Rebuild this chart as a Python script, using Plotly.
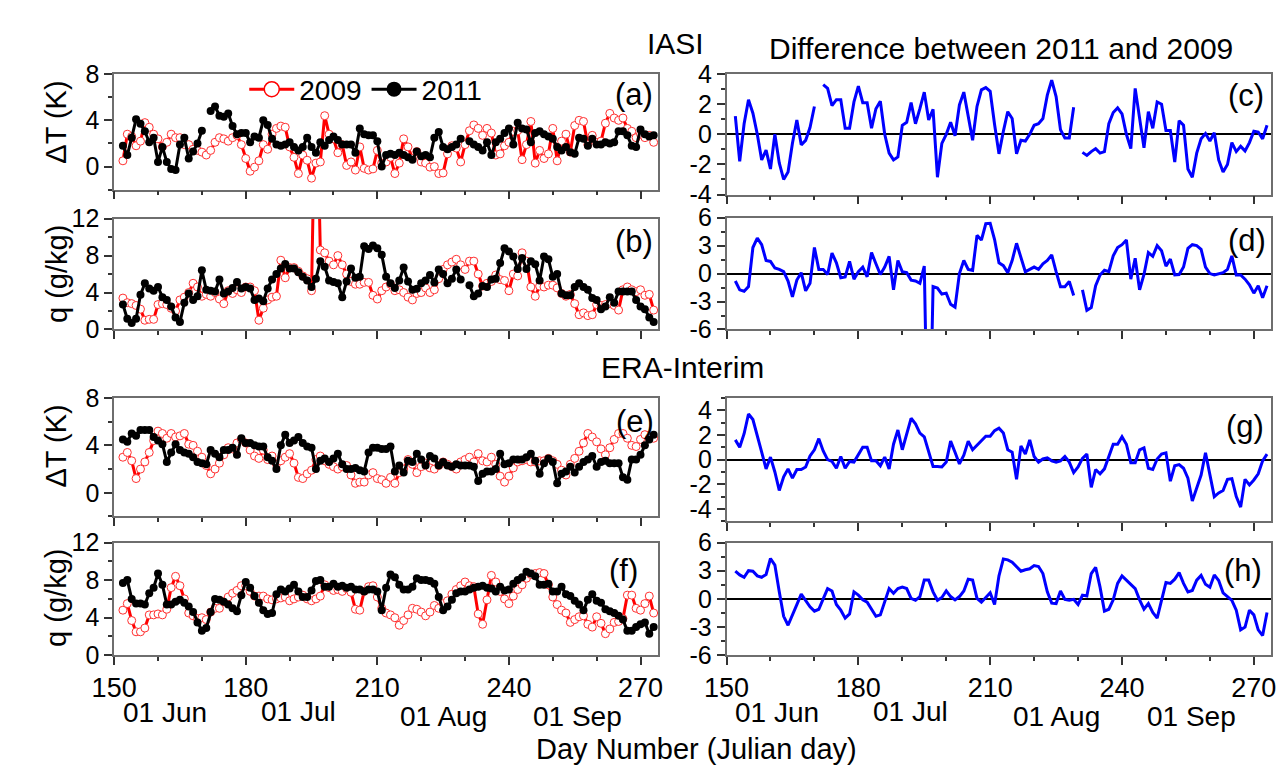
import plotly.graph_objects as go

# ---------------- data ----------------
days = list(range(152, 274))

# IASI dT (K)
a_2009 = [0.5, 2.8, 2.6, 1.8, 2.2, 3.8, 3.4, 2.8, 2.4, 1.7,
          2.1, 2.8, 2.5, 2.5, 1.9, 1.9, 1.5, 1.4, 1.25, 1.0,
          1.4, 2.1, 2.5, 2.4, 2.2, 2.5, 2.7, 1.9, 0.7, -0.4,
          -0.05, 0.5, 1.9, 1.5, 2.8, 3.3, 3.5, 3.4, 1.7, 0.8,
          -0.6, 1.0, 0.55, -1.0, 0.3, 0.4, 4.4, 2.8, 2.4, 1.2,
          1.9, 0.1, 0.4, -0.3, 1.7, -0.15, -0.3, -0.2, 1.4, 0.3,
          0.4, 0.8, -0.6, 0.3, 2.4, 1.7, 0.7, 1.3, 0.4, 0.3,
          -0.05, 0.0, -0.6, -0.55, 1.1, 1.8, 1.6, 0.4, 1.9, 3.1,
          3.6, 3.3, 2.7, 3.3, 2.9, 1.0, 1.1, 1.8, 2.1, 3.05,
          3.1, 0.6, 1.9, 3.9, 0.3, 1.4, 0.7, 1.1, 3.3, 0.5,
          2.2, 2.8, 1.25, 3.55, 4.0, 3.9, 1.9, 2.7, 2.1, 2.2,
          3.75, 4.6, 4.2, 4.0, 4.2, 3.3, 3.05, 2.5, 2.8, 2.5,
          2.7, 2.1]
a_2011 = [1.8, 1.0, 2.5, 4.1, 3.7, 3.05, 2.1, 2.5, 0.4, 1.7,
          0.4, -0.2, -0.3, 1.9, 2.5, 0.7, 1.3, 2.0, 3.1, None,
          4.8, 5.2, 4.4, 4.3, 4.6, 3.5, 2.8, 2.9, 2.9, 2.1,
          2.6, 2.5, 4.0, 3.6, 2.4, 1.9, 1.8, 1.9, 2.1, 1.7,
          1.4, 1.7, 2.5, 1.7, 1.2, 2.1, 1.8, 2.3, 2.6, 2.3,
          1.9, 1.9, 1.9, 1.2, 3.3, 2.8, 2.7, 2.7, 2.2, 0.0,
          1.0, 1.1, 1.0, 1.2, 1.0, 0.8, 0.6, 1.3, 0.9, 1.0,
          0.8, 2.5, 3.0, 1.7, 1.5, 1.7, 1.9, 2.4, None, 2.2,
          1.9, 1.7, 1.4, 2.1, 1.0, 2.1, 2.4, 2.9, 3.3, 1.9,
          3.8, 3.3, 3.2, 2.1, 2.9, 3.05, 2.8, 2.6, 2.4, 1.7,
          1.4, 1.7, 1.25, 1.1, 2.5, 2.4, 1.8, 2.4, 1.9, 1.9,
          2.1, 2.0, 2.1, 3.05, 3.05, 2.7, 1.8, 1.7, 3.2, 2.8,
          2.6, 2.7]

# IASI q (g/kg)
b_2009 = [3.4, 2.9, 2.8, 2.6, 2.2, 1.0, 1.1, 1.1, 2.7, 2.8,
          2.7, 2.3, 2.0, 3.2, 3.5, 4.0, 5.0, 4.6, 3.6, 3.8,
          3.6, 4.0, 3.3, 2.8, 4.2, 3.9, 4.3, 4.0, 4.6, 4.6,
          4.2, 1.0, 2.3, 3.2, 3.5, 3.6, 7.5, 5.6, 6.7, 6.7,
          6.3, 5.8, 5.5, 4.2, 30.0, 8.6, 8.3, 7.4, 7.0, 8.0,
          7.0, 6.0, 5.2, 4.9, 4.9, 5.1, 5.1, 3.7, 3.3, 4.2,
          4.6, 4.9, 4.2, 4.3, 4.0, 3.5, 3.2, 3.9, 4.0, 4.5,
          4.0, 4.3, 5.5, 6.5, 7.0, 7.3, 7.6, 7.0, 6.5, 7.4,
          7.4, 6.0, 4.7, 5.0, 5.2, 5.9, 5.4, 5.3, 4.2, 6.0,
          5.8, 8.3, 7.4, 4.6, 3.6, 4.7, 4.6, 4.8, 4.8, 4.5,
          3.9, 3.6, 3.8, 2.8, 1.6, 1.8, 1.5, 1.6, 2.7, 2.6,
          2.7, 2.8, 2.6, 2.1, 4.3, 4.6, 4.3, 4.1, 4.3, 3.7,
          3.8, 2.1]
b_2011 = [2.7, 1.15, 0.7, 1.15, 3.75, 5.0, 4.45, 4.2, 4.6, 3.5,
          3.2, 2.5, 1.3, 0.8, 2.9, 3.9, 3.2, 3.6, 6.4, 4.3,
          4.2, 4.1, 5.4, 3.9, 4.1, 4.5, 5.15, 4.45, 4.6, 4.45,
          3.2, 3.35, 3.05, 4.45, 5.4, 6.0, 6.6, 7.1, 6.6, 6.6,
          6.2, 5.7, 5.3, 4.6, 5.5, 7.4, 6.8, 5.3, 5.15, 5.0,
          3.5, 5.2, 6.6, 5.6, 5.7, 9.0, 8.7, 9.1, 8.8, 8.1,
          5.7, 5.0, 4.5, 5.3, 6.7, 5.2, 4.3, 4.4, 5.0, 5.3,
          5.9, 5.1, 6.5, 6.0, 5.0, 5.5, 6.5, 5.4, None, 4.8,
          3.6, 3.9, 4.7, 4.6, 5.4, 5.5, 7.2, 8.8, 8.45, 7.9,
          6.55, 7.75, 6.55, 7.4, 7.05, 5.3, 7.9, 7.6, 5.7, 6.0,
          3.9, 3.7, 3.7, 4.6, 5.0, 4.6, 4.3, 3.4, 3.2, 2.2,
          2.5, 3.5, 2.9, 4.1, 4.1, 4.1, 4.1, 3.2, 2.5, 2.2,
          1.3, 0.8]

# ERA-Interim dT (K)
e_2009 = [3.0, 3.4, 2.7, 1.2, 2.0, 2.6, 3.4, 4.4, 5.2, 5.0,
          4.6, 5.0, 4.7, 4.8, 5.0, 4.1, 4.0, 3.5, 3.0, 2.3,
          1.6, 2.0, 2.5, 3.2, 3.8, 3.7, 4.2, 4.5, 4.2, 3.6,
          3.1, 2.9, 3.6, 2.8, 3.1, 2.4, 2.7, 3.0, 3.3, 2.5,
          1.3, 1.2, 1.6, 1.9, 2.8, 3.1, 2.7, 2.4, 2.2, 2.0,
          2.2, 2.3, 1.5, 0.8, 0.9, 0.9, 1.5, 1.7, 1.2, 1.1,
          0.8, 1.3, 0.8, 1.7, 2.0, 2.8, 2.4, 1.7, 2.2, 2.5,
          2.1, 2.0, 2.3, 2.6, 2.4, 2.2, 2.0, 2.6, 2.8, 3.0,
          2.6, 3.3, 2.7, 2.6, 3.0, 2.4, 1.4, 0.9, 1.4, 2.1,
          2.6, 2.7, 2.8, 2.6, 2.6, 2.7, 2.7, 2.9, 2.7, 2.4,
          1.9, 1.5, 2.4, 2.9, 3.5, 4.2, 5.0, 4.7, 4.3, 3.7,
          3.2, 3.8, 4.5, 5.0, 5.0, 4.6, 4.0, 3.9, 4.5, 4.9,
          4.6, 4.6]
e_2011 = [4.5, 4.3, 5.0, 4.8, 5.3, 5.3, 5.3, 4.7, 4.4, 4.1,
          2.6, 3.4, 4.1, 3.6, 3.4, 3.3, 3.0, 2.6, 2.5, 2.4,
          3.6, 3.3, 3.0, 3.6, 3.6, 3.8, 3.2, 4.6, 4.2, 4.2,
          4.0, 3.9, 3.9, 3.0, 2.7, 2.0, 4.0, 4.9, 4.2, 4.4,
          4.7, 4.2, 3.9, 3.8, 2.0, 2.7, 2.9, 2.6, 2.9, 3.3,
          2.4, 2.0, 2.0, 2.1, 1.9, 1.8, 3.4, 3.8, 3.8, 3.7,
          3.7, 3.9, 1.8, 2.3, 1.7, 2.7, 2.6, 3.3, 2.8, 2.3,
          3.1, 2.9, 2.3, 2.6, 2.3, 2.2, 2.4, 2.3, 2.3, 2.3,
          2.2, 1.0, 1.6, 1.8, 1.8, 2.0, 3.3, 2.4, 2.5, 2.8,
          2.8, 2.8, 3.0, 3.3, 2.7, 1.6, 2.5, 2.9, 2.6, 0.8,
          1.6, 1.8, 2.2, 1.7, 2.2, 2.6, 2.8, 3.1, 2.2, 2.6,
          2.7, 2.5, 2.5, 2.5, 1.3, 1.1, 2.8, 2.8, 3.2, 4.0,
          4.5, 4.9]

# ERA-Interim q (g/kg)
f_2009 = [4.8, 5.5, 3.7, 2.5, 2.5, 2.9, 4.3, 4.3, 4.4, 4.3,
          4.9, 7.2, 8.4, 7.4, 6.0, 4.5, 4.2, 3.9, 4.0, 3.8,
          4.6, 5.0, 5.0, 5.7, 6.2, 6.6, 6.9, 7.4, 7.4, 6.8,
          6.3, 6.3, 6.3, 6.0, 5.9, 6.0, 6.1, 6.2, 5.8, 6.0,
          6.2, 6.4, 6.0, 5.8, 6.0, 6.3, 7.5, 7.2, 6.9, 7.0,
          6.8, 7.1, 6.7, 4.9, 4.8, 6.8, 7.3, 7.4, 6.2, 5.0,
          4.5, 4.3, 4.0, 3.2, 3.7, 4.3, 5.0, 4.9, 4.6, 4.2,
          4.6, 5.3, 5.0, 5.5, 5.8, 6.5, 7.0, 7.4, 7.8, 7.4,
          7.3, 4.4, 3.3, 5.9, 8.5, 7.8, 6.8, 6.0, 5.5, 6.3,
          7.0, 7.5, 8.2, 8.6, 8.7, 8.8, 8.7, 7.5, 6.2, 5.4,
          4.8, 4.5, 3.5, 3.8, 4.1, 4.2, 3.3, 3.0, 4.1, 3.4,
          2.3, 2.8, 3.5, 3.6, 3.9, 6.4, 6.4, 5.0, 4.8, 5.5,
          6.3, 4.5]
f_2011 = [7.7, 8.0, 6.0, 5.5, 5.5, 5.4, 6.6, 7.2, 8.7, 7.5,
          5.4, 5.4, 5.7, 5.9, 5.6, 5.2, 4.6, 3.5, 2.6, 2.9,
          4.6, 6.0, 5.9, 5.7, 5.4, 5.0, 4.7, 6.4, 7.8, 7.2,
          6.3, 5.6, 4.8, 4.4, 4.5, 6.5, 7.0, 6.8, 7.1, 7.5,
          6.8, 6.2, 6.2, 6.9, 7.9, 8.0, 7.3, 7.3, 7.6, 7.3,
          7.4, 7.2, 7.3, 7.0, 7.0, 6.8, 7.0, 7.0, 6.8, 4.8,
          7.2, 8.6, 8.3, 7.5, 7.0, 7.0, 7.3, 8.2, 8.0, 8.0,
          7.9, 7.6, 6.2, 4.8, 5.2, 5.9, 6.6, 6.8, 6.8, 7.0,
          7.2, 7.3, 7.4, 7.2, 7.1, 6.8, 7.3, 6.9, 7.0, 7.6,
          8.0, 8.3, 8.9, 8.7, 8.4, 7.5, 7.5, 7.6, 6.8, 6.8,
          7.3, 6.5, 6.3, 5.8, 5.4, 4.8, 5.9, 6.5, 5.8, 5.6,
          4.9, 4.7, 4.5, 4.2, 3.8, 2.6, 2.6, 3.0, 3.3, 3.5,
          2.3, 3.0]

# Differences 2011 - 2009
c_diff = [1.2, -1.8, 0.7, 2.3, 1.4, 0.0, -1.7, -1.05, -2.3, 0.0,
          -1.9, -3.0, -2.5, -0.6, 0.95, -0.7, -0.4, 0.45, 1.85, None,
          3.3, 3.05, 1.9, 2.3, 2.3, 0.4, 0.4, 2.15, 3.2, 2.1,
          2.1, 0.4, 1.7, 2.2, 0.0, -1.25, -1.7, -1.5, 0.6, 0.8,
          2.1, 0.7, 1.7, 2.8, 0.95, 1.65, -2.85, -0.6, 0.0, 0.8,
          -0.1, 1.95, 2.8, 1.25, -0.4, 1.85, 2.95, 3.1, 2.85, 0.65,
          -1.3, 0.2, 1.5, 1.05, -1.3, -0.4, -0.45, 0.0, 0.6, 0.7,
          1.05, 2.6, 3.6, 2.5, 0.3, -0.25, -0.25, 1.8, None, -1.2,
          -1.4, -1.15, -0.95, -1.25, -1.15, 0.7, 1.45, 1.75, 1.35, 0.0,
          -0.95, 3.05, 1.05, -0.9, 1.5, 0.4, 2.15, 2.0, 0.25, 0.25,
          -1.85, 0.9, 0.6, -2.3, -2.85, -1.25, -0.3, 0.05, -0.45, 0.1,
          -1.7, -2.5, -2.0, -0.55, -1.15, -0.8, -1.1, -0.55, 0.2, 0.15,
          -0.3, 0.6]
d_diff = [-0.8, -1.75, -1.9, -1.4, 2.8, 3.8, 3.1, 1.4, 1.3, 0.6,
          0.45, 0.2, -0.8, -2.5, -0.7, 0.1, -1.85, -1.05, 2.8, 0.45,
          0.45, -0.1, 2.2, 1.15, -0.45, -0.35, 1.3, -0.6, 0.2, 0.7,
          -0.35, 2.25, 1.05, -0.1, 0.7, 1.85, -1.75, 1.4, 0.2, 0.1,
          -0.7, -0.8, -1.05, 0.8, -24.0, -1.4, -1.55, -2.2, -2.1, -3.3,
          -3.6, 0.0, 1.4, 0.45, 0.35, 4.1, 3.6, 5.35, 5.4, 3.65,
          1.15, 0.85, 0.1, 1.4, 3.25, 1.75, 0.2, 0.45, 0.7, 0.45,
          1.05, 1.4, 2.0, 0.2, -1.4, -1.4, -0.85, -2.35, None, -1.75,
          -3.95, -3.65, -1.3, -0.15, 0.35, 0.2, 1.9, 2.8, 3.1, 3.6,
          -0.6, 1.65, -1.75, -0.1, 2.25, 1.85, 3.0, 2.45, 0.8, 1.55,
          -0.15, -0.1, 0.7, 2.7, 3.1, 3.0, 2.6, 0.7, 0.0, -0.15,
          0.0, 0.1, 0.45, 1.9, -0.15, -0.15, -0.6, -1.2, -2.1, -1.3,
          -2.6, -1.3]
g_diff = [1.6, 1.0, 2.1, 3.7, 3.25, 2.0, 0.6, -0.75, 0.2, -1.0,
          -2.5, -1.4, -0.75, -1.5, -0.8, -0.8, -0.6, 0.3, 0.8, 1.7,
          0.7, 0.0, -0.15, -0.7, 0.25, -0.7, -0.15, -0.2, 0.45, 1.0,
          1.0, -0.1, -0.1, -0.5, 0.2, -0.75, 1.25, 2.4, 0.8, 2.1,
          3.35, 2.9, 2.15, 1.85, 0.6, -0.55, -0.55, -0.6, -0.2, 1.5,
          0.6, -0.35, 0.35, 1.5, 0.8, 1.15, 1.5, 1.9, 1.9, 2.35,
          2.55, 2.15, 0.8, 0.6, -1.6, 1.1, 0.45, 1.6, 0.25, -0.2,
          0.05, 0.15, -0.1, -0.2, -0.1, 0.25, -0.2, -1.05, -0.6, 0.1,
          0.45, -2.25, -0.8, -1.15, -0.75, 0.2, 1.25, 1.25, 1.85, 1.25,
          -0.25, -0.25, 0.8, 0.95, -0.7, -0.8, 0.05, 0.45, 0.55, -1.75,
          -0.5, -0.4, -0.7, -1.5, -3.35, -2.3, -1.25, 0.55, -1.3, -3.0,
          -2.7, -2.5, -1.6, -1.55, -3.0, -3.85, -1.6, -2.05, -1.65, -1.15,
          -0.1, 0.45]
h_diff = [2.95, 2.55, 2.3, 3.0, 2.95, 2.45, 2.3, 2.6, 4.3, 3.6,
          0.75, -1.85, -2.8, -1.6, -0.6, 0.5, -0.25, -0.85, -1.3, -1.1,
          0.0, 1.1, 0.85, -0.6, -1.2, -2.05, -1.6, 0.75, 0.4, -0.1,
          -0.35, -1.1, -1.85, -1.7, -0.25, 1.1, 0.6, 1.1, 1.25, 1.1,
          0.05, -0.15, 0.25, 2.0, 2.0, 0.75, -0.15, 0.15, 0.85, 0.25,
          -0.1, 0.25, 0.85, 2.1, 2.0, 0.05, -0.35, 0.15, 0.65, -0.6,
          2.45, 4.25, 4.15, 3.9, 3.45, 2.95, 3.1, 3.2, 3.55, 3.45,
          2.7, 0.75, -0.45, -0.5, 0.85, -0.05, -0.15, -0.05, -0.6, 0.4,
          0.3, 2.7, 3.35, 1.25, -1.3, -1.1, -0.1, 1.65, 2.45, 2.0,
          1.65, 1.1, -0.1, -1.1, -0.5, -1.45, -2.05, -0.25, 1.75, 1.65,
          2.1, 2.8, 1.65, 0.75, 0.9, 2.0, 2.5, 1.55, 1.25, 2.55,
          1.95, 0.65, 0.25, -0.15, -1.2, -3.3, -3.0, -1.2, -1.7, -3.3,
          -3.9, -1.45]

x_range = [150, 274]
x_tickvals = [150, 180, 210, 240, 270]
date_labels = ["01 Jun", "01 Jul", "01 Aug", "01 Sep"]
date_days = [152, 182, 213, 244]
series_names = ["2009", "2011"]

# ---------------- styling ----------------
W, H = 1287, 776
FONT = "Liberation Sans, Arial, Helvetica, sans-serif"
RED, BLACK, BLUE = "#ff0000", "#000000", "#0000ff"
FRAME = "#6e6e6e"
TICKC = "#333333"

LEFT = (85, 641)
RIGHT = (711, 1268)

panels = [
    dict(key="a", pair=(a_2009, a_2011), xp=LEFT, yp=(54, 174), yr=[-2, 8], dt=4, mdt=2, lab=False, lp=(638, 55)),
    dict(key="b", pair=(b_2009, b_2011), xp=LEFT, yp=(204, 319), yr=[0, 12], dt=4, mdt=2, lab=False, lp=(638, 208)),
    dict(key="e", pair=(e_2009, e_2011), xp=LEFT, yp=(390, 513), yr=[-2, 8], dt=4, mdt=2, lab=False, lp=(639, 394)),
    dict(key="f", pair=(f_2009, f_2011), xp=LEFT, yp=(540, 657), yr=[0, 12], dt=4, mdt=2, lab=True, lp=(623, 549)),
    dict(key="c", diff=c_diff, xp=RIGHT, yp=(54, 179), yr=[-4, 4], dt=2, mdt=1, lab=False, lp=(1262, 56)),
    dict(key="d", diff=d_diff, xp=RIGHT, yp=(203, 319), yr=[-6, 6], dt=3, mdt=1.5, lab=False, lp=(1264, 206)),
    dict(key="g", diff=g_diff, xp=RIGHT, yp=(390, 518), yr=[-5, 5], dt=2, mdt=1, lab=False, lp=(1262, 399)),
    dict(key="h", diff=h_diff, xp=RIGHT, yp=(540, 657), yr=[-6, 6], dt=3, mdt=1.5, lab=True, lp=(1260, 549)),
]

fig = go.Figure()
layout = dict(
    width=W, height=H, margin=dict(l=0, r=0, t=0, b=0),
    paper_bgcolor="white", plot_bgcolor="white",
    font=dict(family=FONT, color="black", size=26),
    showlegend=True,
)
annotations = []

def ticks_for(yr, dt):
    vals = []
    v = 0.0
    while v >= yr[0]:
        vals.append(v)
        v -= dt
    v = dt
    while v <= yr[1]:
        vals.append(v)
        v += dt
    vals = sorted(vals)
    return vals, [("%g" % t) for t in vals]

for i, p in enumerate(panels, start=1):
    xs = "" if i == 1 else str(i)
    xa, ya = "x" + xs, "y" + xs
    if "pair" in p:
        y09, y11 = p["pair"]
        fig.add_trace(go.Scatter(
            x=days, y=y09, mode="lines+markers", xaxis=xa, yaxis=ya, showlegend=False,
            line=dict(color=RED, width=3),
            marker=dict(symbol="circle", size=8, color="white", line=dict(color="#ff3030", width=1)),
            connectgaps=False))
        fig.add_trace(go.Scatter(
            x=days, y=y11, mode="lines+markers", xaxis=xa, yaxis=ya, showlegend=False,
            line=dict(color=BLACK, width=3),
            marker=dict(symbol="circle", size=8, color=BLACK),
            connectgaps=False))
    else:
        fig.add_trace(go.Scatter(
            x=days, y=p["diff"], mode="lines", xaxis=xa, yaxis=ya, showlegend=False,
            line=dict(color=BLUE, width=3), connectgaps=False))

    tv, tt = ticks_for(p["yr"], p["dt"])
    layout["xaxis" + xs] = dict(
        domain=[p["xp"][0] / W, p["xp"][1] / W], range=x_range, anchor=ya,
        tickmode="array", tickvals=x_tickvals, ticktext=[str(v) for v in x_tickvals],
        ticks="outside", ticklen=8, tickwidth=1.5, tickcolor=TICKC,
        showticklabels=p["lab"], tickfont=dict(size=27),
        showline=True, mirror=True, linecolor=FRAME, linewidth=1.5,
        showgrid=False, zeroline=False,
        minor=dict(tickmode="linear", tick0=150, dtick=10, ticks="outside",
                   ticklen=4, tickwidth=1.5, tickcolor=TICKC, showgrid=False),
    )
    right = "diff" in p
    layout["yaxis" + xs] = dict(
        domain=[1 - p["yp"][1] / H, 1 - p["yp"][0] / H], range=p["yr"], anchor=xa,
        tickmode="array", tickvals=tv, ticktext=tt,
        ticks="outside", ticklen=8, tickwidth=1.5, tickcolor=TICKC,
        tickfont=dict(size=25),
        showline=True, mirror=True, linecolor=FRAME, linewidth=1.5,
        showgrid=False, zeroline=right, zerolinecolor="#000000", zerolinewidth=1.5,
        minor=dict(tickmode="linear", tick0=0, dtick=p["mdt"], ticks="outside",
                   ticklen=4, tickwidth=1.5, tickcolor=TICKC, showgrid=False),
    )
    annotations.append(dict(
        text="(" + p["key"] + ")", xref="paper", yref="paper",
        x=p["lp"][0] / W, y=1 - p["lp"][1] / H, xanchor="right", yanchor="top",
        showarrow=False, font=dict(size=31)))
    if p["lab"]:
        shifts = [-2, 4, 8, 5]
        ys = [716, 715, 720, 720]
        for lbl, d, sh, yy in zip(date_labels, date_days, shifts, ys):
            annotations.append(dict(
                text=lbl, xref=xa, yref="paper", x=d, y=1 - yy / H, xshift=sh,
                xanchor="left", yanchor="middle", showarrow=False, font=dict(size=28)))

# legend entries (drawn by plotly's legend)
fig.add_trace(go.Scatter(x=[None], y=[None], mode="lines+markers", name=series_names[0],
                         line=dict(color=RED, width=3),
                         marker=dict(symbol="circle", size=15, color="white",
                                     line=dict(color=RED, width=1.5))))
fig.add_trace(go.Scatter(x=[None], y=[None], mode="lines+markers", name=series_names[1],
                         line=dict(color=BLACK, width=3),
                         marker=dict(symbol="circle", size=15, color=BLACK)))
layout["legend"] = dict(orientation="h", x=218 / W, y=1 - 70 / H, xanchor="left", yanchor="middle",
                        bgcolor="rgba(0,0,0,0)", font=dict(size=28), itemwidth=45,
                        traceorder="normal", itemclick=False)

# y axis titles
for txt, yc in [("ΔT (K)", 104), ("q (g/kg)", 261), ("ΔT (K)", 440), ("q (g/kg)", 597)]:
    annotations.append(dict(text=txt, xref="paper", yref="paper", x=26 / W, y=1 - yc / H,
                            xanchor="center", yanchor="middle", textangle=-90,
                            showarrow=False, font=dict(size=29)))

# headings
annotations.append(dict(text="IASI", xref="paper", yref="paper", x=659 / W, y=1 - 22 / H,
                        xanchor="center", yanchor="middle", showarrow=False, font=dict(size=30)))
annotations.append(dict(text="Difference between 2011 and 2009", xref="paper", yref="paper",
                        x=992 / W, y=1 - 28 / H, xanchor="center", yanchor="middle",
                        showarrow=False, font=dict(size=30)))
annotations.append(dict(text="ERA-Interim", xref="paper", yref="paper", x=666 / W, y=1 - 358 / H,
                        xanchor="center", yanchor="middle", showarrow=False, font=dict(size=30)))
annotations.append(dict(text="Day Number (Julian day)", xref="paper", yref="paper",
                        x=680 / W, y=1 - 754 / H, xanchor="center", yanchor="middle",
                        showarrow=False, font=dict(size=29)))

layout["annotations"] = annotations
fig.update_layout(**layout)
fig.write_html("out.html")
